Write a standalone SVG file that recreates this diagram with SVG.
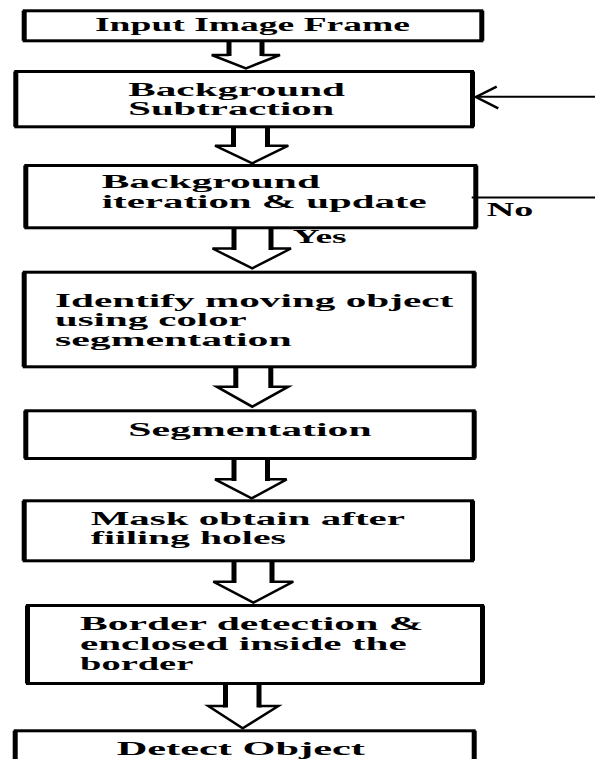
<svg xmlns="http://www.w3.org/2000/svg" width="595" height="759" viewBox="0 0 595 759">
<style>
.box{fill:#fff;stroke:#000;stroke-width:3}
.side{fill:none;stroke:#000;stroke-width:5}
.t{font-family:"Liberation Serif","Times New Roman",serif;font-weight:bold;font-size:18px;fill:#000}
.shaft{fill:none;stroke:#000;stroke-width:5}
.head{fill:#fff;stroke:#000;stroke-width:2.5;stroke-linejoin:miter}
.fb{fill:none;stroke:#000;stroke-width:2}
.fbh{fill:none;stroke:#000;stroke-width:2.5}
</style>
<rect width="595" height="759" fill="#fff"/>
<g id="n1">
<rect class="box" x="24.2" y="10.8" width="457.6" height="30"/>
<path class="side" d="M24.2 10.8V40.8M481.8 10.8V40.8"/>
<text class="t" x="95" y="31" textLength="315" lengthAdjust="spacingAndGlyphs">Input Image Frame</text>
</g>
<g id="n2">
<rect class="box" x="15.8" y="71.5" width="456.7" height="55.3"/>
<path class="side" d="M15.8 71.5V126.8M472.5 71.5V126.8"/>
<text class="t" x="128.3" y="95.5" textLength="216.7" lengthAdjust="spacingAndGlyphs">Background</text>
<text class="t" x="128.3" y="115" textLength="206" lengthAdjust="spacingAndGlyphs">Subtraction</text>
</g>
<g id="n3">
<rect class="box" x="25.8" y="165.5" width="450" height="62.3"/>
<path class="side" d="M25.8 165.5V227.8M475.8 165.5V227.8"/>
<text class="t" x="101.7" y="188.3" textLength="218.3" lengthAdjust="spacingAndGlyphs">Background</text>
<text class="t" x="101.7" y="208.3" textLength="325" lengthAdjust="spacingAndGlyphs">iteration &amp; update</text>
</g>
<g id="n4">
<rect class="box" x="24.2" y="272.2" width="450" height="94.6"/>
<path class="side" d="M24.2 272.2V366.8M474.2 272.2V366.8"/>
<text class="t" x="55" y="306.7" textLength="398.3" lengthAdjust="spacingAndGlyphs">Identify moving object</text>
<text class="t" x="55" y="326" textLength="191.7" lengthAdjust="spacingAndGlyphs">using color</text>
<text class="t" x="55" y="346" textLength="236.7" lengthAdjust="spacingAndGlyphs">segmentation</text>
</g>
<g id="n5">
<rect class="box" x="25.8" y="410.8" width="448.4" height="47.7"/>
<path class="side" d="M25.8 410.8V458.5M474.2 410.8V458.5"/>
<text class="t" x="128.3" y="435.7" textLength="243.4" lengthAdjust="spacingAndGlyphs">Segmentation</text>
</g>
<g id="n6">
<rect class="box" x="24.2" y="500.8" width="448.3" height="60"/>
<path class="side" d="M24.2 500.8V560.8M472.5 500.8V560.8"/>
<text class="t" x="90.7" y="525" textLength="314.3" lengthAdjust="spacingAndGlyphs">Mask obtain after</text>
<text class="t" x="90.7" y="544.3" textLength="195.3" lengthAdjust="spacingAndGlyphs">fiiling holes</text>
</g>
<g id="n7">
<rect class="box" x="27.5" y="605.5" width="455" height="78"/>
<path class="side" d="M27.5 605.5V683.5M482.5 605.5V683.5"/>
<text class="t" x="80" y="630" textLength="343.3" lengthAdjust="spacingAndGlyphs">Border detection &amp;</text>
<text class="t" x="80" y="650" textLength="326.7" lengthAdjust="spacingAndGlyphs">enclosed inside the</text>
<text class="t" x="80" y="670" textLength="113.3" lengthAdjust="spacingAndGlyphs">border</text>
</g>
<g id="n8">
<rect class="box" x="15.2" y="730.8" width="459" height="40"/>
<path class="side" d="M15.2 730.8V771M474.2 730.8V771"/>
<text class="t" x="116.7" y="755" textLength="248.3" lengthAdjust="spacingAndGlyphs">Detect Object</text>
</g>
<g id="connectors">
<path class="head" d="M229 55H211.7L246 68.3L280 55H262"/>
<path class="shaft" d="M229 42V56M262 42V56"/>
<path class="head" d="M233.5 145.7H215L252.3 163.3L288.3 145.7H267.5"/>
<path class="shaft" d="M233.5 128V147M267.5 128V147"/>
<path class="head" d="M234 248.5H212.5L252.3 268.3L291 248.5H271"/>
<path class="shaft" d="M234 229V250M271 229V250"/>
<path class="head" d="M235.8 386.7H216.7L252.3 406.7L288.3 386.7H270.8"/>
<path class="shaft" d="M235.8 368V388M270.8 368V388"/>
<path class="head" d="M234 479.3H215L251.7 498.3L286.7 479.3H267.5"/>
<path class="shaft" d="M234 460V481M267.5 460V481"/>
<path class="head" d="M234 581.7H213.3L253.3 602.7L293.3 581.7H272"/>
<path class="shaft" d="M234 562V583M272 562V583"/>
<path class="head" d="M225.5 706H208.3L242.7 728.3L278.3 706H259"/>
<path class="shaft" d="M225.5 685V707.5M259 685V707.5"/>
<path class="fb" d="M476 96.7H595"/>
<path class="fbh" d="M496.7 86.7L476 97L498.3 108.3"/>
<path class="fb" d="M471.7 197.5H595"/>
<text class="t" x="292.7" y="243" textLength="54" lengthAdjust="spacingAndGlyphs">Yes</text>
<text class="t" x="486.7" y="216" textLength="46.6" lengthAdjust="spacingAndGlyphs">No</text>
</g>
</svg>
